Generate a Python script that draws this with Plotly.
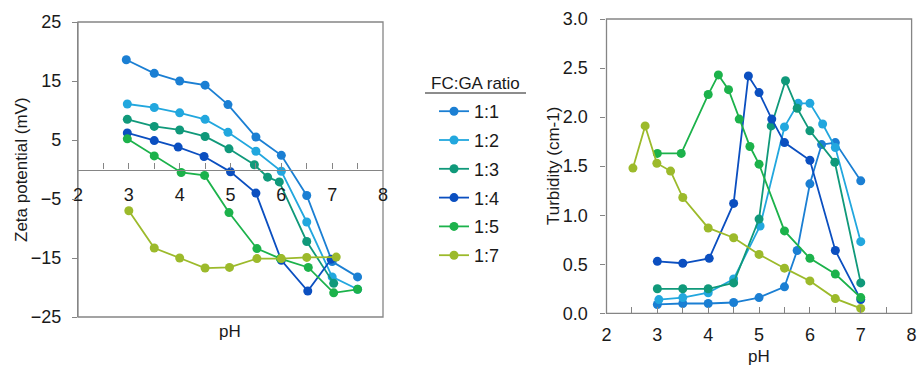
import plotly.graph_objects as go

# ---------------- data ----------------
series_names = ["1:1", "1:2", "1:3", "1:4", "1:5", "1:7"]
colors = ["#1b7fd3", "#22a7de", "#10997a", "#0b4fc0", "#1cb24b", "#9cba2b"]

# Zeta potential (mV) vs pH
zeta_ph_11 = [2.95, 3.5, 4.0, 4.5, 4.95, 5.5, 6.0, 6.5, 7.0, 7.5]
zeta_11 = [18.6, 16.3, 15.0, 14.3, 11.0, 5.5, 2.4, -4.4, -15.6, -18.2]
zeta_ph_12 = [2.97, 3.5, 4.0, 4.5, 4.95, 5.5, 6.0, 6.5, 7.0, 7.5]
zeta_12 = [11.1, 10.5, 9.6, 8.5, 6.3, 3.1, -0.3, -8.9, -18.2, -20.3]
zeta_ph_13 = [2.97, 3.5, 4.0, 4.5, 4.97, 5.47, 5.73, 5.96, 6.5, 7.03]
zeta_13 = [8.5, 7.3, 6.7, 5.6, 3.5, 0.8, -1.3, -2.1, -12.2, -19.3]
zeta_ph_14 = [2.97, 3.5, 3.97, 4.48, 5.0, 5.5, 6.0, 6.52, 6.98]
zeta_14 = [6.2, 4.9, 3.8, 2.2, -0.4, -4.0, -15.4, -20.6, -15.2]
zeta_ph_15 = [2.97, 3.5, 4.03, 4.49, 4.97, 5.52, 5.98, 6.53, 7.03, 7.5]
zeta_15 = [5.2, 2.3, -0.5, -1.0, -7.3, -13.4, -15.1, -16.6, -20.9, -20.3]
zeta_ph_17 = [3.0, 3.5, 4.0, 4.5, 4.98, 5.52, 6.0, 6.5, 7.08]
zeta_17 = [-7.0, -13.3, -15.0, -16.7, -16.6, -15.1, -15.1, -14.9, -14.85]

# Turbidity (cm-1) vs pH
turb_ph_11 = [3.0, 3.5, 4.0, 4.5, 5.0, 5.5, 5.75, 6.0, 6.23, 6.5, 7.0]
turb_11 = [0.09, 0.10, 0.10, 0.11, 0.16, 0.27, 0.64, 1.32, 1.72, 1.74, 1.35]
turb_ph_12 = [3.03, 3.5, 4.0, 4.5, 5.02, 5.5, 5.77, 6.0, 6.25, 6.5, 7.0]
turb_12 = [0.14, 0.16, 0.21, 0.35, 0.89, 1.90, 2.14, 2.14, 1.93, 1.69, 0.73]
turb_ph_13 = [3.0, 3.5, 4.0, 4.5, 5.0, 5.24, 5.52, 5.75, 6.0, 6.49, 7.0]
turb_13 = [0.25, 0.25, 0.25, 0.31, 0.96, 1.91, 2.37, 2.09, 1.86, 1.54, 0.31]
turb_ph_14 = [3.0, 3.5, 4.02, 4.5, 4.79, 5.0, 5.25, 5.5, 6.0, 6.5, 7.0]
turb_14 = [0.53, 0.51, 0.56, 1.12, 2.42, 2.25, 1.98, 1.74, 1.56, 0.64, 0.14]
turb_ph_15 = [3.0, 3.47, 4.0, 4.2, 4.4, 4.61, 4.82, 5.0, 5.5, 6.0, 6.5, 7.0]
turb_15 = [1.63, 1.63, 2.23, 2.43, 2.28, 1.98, 1.70, 1.52, 0.84, 0.56, 0.40, 0.16]
turb_ph_17 = [2.52, 2.76, 2.99, 3.26, 3.5, 4.0, 4.5, 5.0, 5.5, 6.0, 6.5, 7.0]
turb_17 = [1.48, 1.91, 1.53, 1.45, 1.18, 0.87, 0.77, 0.60, 0.46, 0.33, 0.15, 0.05]

zeta_x = [zeta_ph_11, zeta_ph_12, zeta_ph_13, zeta_ph_14, zeta_ph_15, zeta_ph_17]
zeta_y = [zeta_11, zeta_12, zeta_13, zeta_14, zeta_15, zeta_17]
turb_x = [turb_ph_11, turb_ph_12, turb_ph_13, turb_ph_14, turb_ph_15, turb_ph_17]
turb_y = [turb_11, turb_12, turb_13, turb_14, turb_15, turb_17]

zeta_ticks = [-25, -15, -5, 5, 15, 25]
turb_ticks = [0.0, 0.5, 1.0, 1.5, 2.0, 2.5, 3.0]
ph_ticks = [2, 3, 4, 5, 6, 7, 8]

# ---------------- layout geometry (pixels) ----------------
W, H = 919, 365
L_x0, L_x1, L_top, L_bot = 78, 383, 22, 317
R_x0, R_x1, R_top, R_bot = 606.5, 911.6, 19, 313.3

def px(x):
    return x / W

def py(y):
    return 1 - y / H

AX = "#858585"
TXT = "#1a1a1a"
FONT = "Liberation Sans, Arial, sans-serif"
TICKF = 18

fig = go.Figure()
for i, name in enumerate(series_names):
    fig.add_trace(go.Scatter(
        x=zeta_x[i], y=zeta_y[i], mode="lines+markers", name=name,
        line=dict(color=colors[i], width=1.8),
        marker=dict(color=colors[i], size=9),
        legendgroup=name, showlegend=True, xaxis="x", yaxis="y"))
for i, name in enumerate(series_names):
    fig.add_trace(go.Scatter(
        x=turb_x[i], y=turb_y[i], mode="lines+markers", name=name,
        line=dict(color=colors[i], width=1.8),
        marker=dict(color=colors[i], size=9),
        legendgroup=name, showlegend=False, xaxis="x2", yaxis="y2"))

ydom1 = [py(L_bot), py(L_top)]
zero_pos = ydom1[0] + (0 - (-25)) / 50 * (ydom1[1] - ydom1[0])

common = dict(showline=True, linecolor=AX, linewidth=1.3, tickcolor=AX,
              showgrid=False, zeroline=False, automargin=False,
              tickfont=dict(size=TICKF, color=TXT))

fig.update_layout(
    width=W, height=H,
    margin=dict(l=0, r=0, t=0, b=0, autoexpand=False),
    paper_bgcolor="white", plot_bgcolor="white",
    font=dict(family=FONT, color=TXT, size=17),
    showlegend=True,
    legend=dict(x=px(434), y=py(93), xanchor="left", yanchor="top",
                font=dict(size=TICKF, color=TXT), tracegroupgap=2.4,
                itemwidth=30, bgcolor="rgba(0,0,0,0)"),
    xaxis=dict(domain=[px(L_x0), px(L_x1)], range=[2, 8], anchor="free",
               position=zero_pos, tickmode="array", tickvals=ph_ticks,
               ticks="inside", ticklen=6, ticklabelstandoff=9,
               minor=dict(dtick=0.5, ticks="inside", ticklen=6, tickcolor=AX),
               **common),
    yaxis=dict(domain=ydom1, range=[-25, 25], anchor="x",
               tickmode="array", tickvals=zeta_ticks, ticks="outside",
               ticklen=5, ticklabelstandoff=7, **common),
    xaxis2=dict(domain=[px(R_x0), px(R_x1)], range=[2, 8], anchor="y2",
                tickmode="array", tickvals=ph_ticks, ticks="inside", ticklen=6,
                ticklabelstandoff=5,
                minor=dict(dtick=0.5, ticks="inside", ticklen=6, tickcolor=AX),
                **common),
    yaxis2=dict(domain=[py(R_bot), py(R_top)], range=[0, 3], anchor="x2",
                tickmode="array", tickvals=turb_ticks,
                ticktext=[f"{v:.1f}" for v in turb_ticks],
                ticks="outside", ticklen=5, ticklabelstandoff=9, **common),
)

# frames
fig.add_shape(type="rect", xref="x domain", yref="y domain", x0=0, x1=1, y0=0, y1=1,
              line=dict(color=AX, width=1.3), layer="below")
fig.add_shape(type="rect", xref="x2 domain", yref="y2 domain", x0=0, x1=1, y0=0, y1=1,
              line=dict(color=AX, width=1.3), layer="below")

ann = dict(xref="paper", yref="paper", showarrow=False, xanchor="center",
           yanchor="middle", font=dict(size=17, color=TXT))
# axis titles
fig.add_annotation(text="Zeta potential (mV)", x=px(21), y=py(170), textangle=-90, **ann)
fig.add_annotation(text="pH", x=px(230), y=py(331), **ann)
fig.add_annotation(text="Turbidity (cm-1)", x=px(553), y=py(166), textangle=-90, **ann)
fig.add_annotation(text="pH", x=px(759), y=py(356), **ann)

# legend title with underline
fig.add_annotation(text="FC:GA ratio", x=px(475), y=py(84), **ann)
fig.add_shape(type="line", xref="paper", yref="paper", x0=px(425), x1=px(526),
              y0=py(93), y1=py(93), line=dict(color=TXT, width=1))

fig.write_html("out.html")
